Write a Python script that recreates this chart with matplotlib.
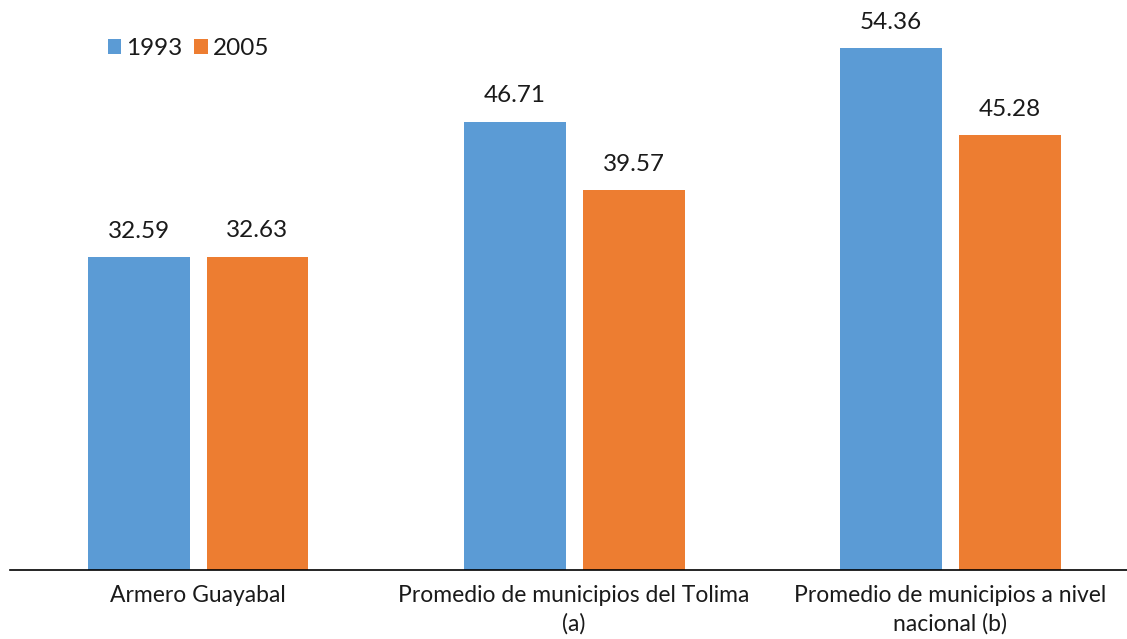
import matplotlib
matplotlib.use("Agg")
import matplotlib.pyplot as plt
import numpy as np

categories = ["Armero Guayabal",
              "Promedio de municipios del Tolima\n(a)",
              "Promedio de municipios a nivel\nnacional (b)"]
series_names = ["1993", "2005"]
values_1993 = [32.59, 46.71, 54.36]
values_2005 = [32.63, 39.57, 45.28]

colors = ["#5B9BD5", "#ED7D31"]

plt.rcParams['font.family'] = ['Lato', 'DejaVu Sans']

fig = plt.figure(figsize=(11.27, 6.39), dpi=100)
ax = fig.add_axes([10 / 1127, 69 / 639, 1 - 10 / 1127, 570 / 639])

x = np.arange(len(categories))
width = 0.271
offset = 0.158

bars1 = ax.bar(x - offset, values_1993, width, color=colors[0], label=series_names[0])
bars2 = ax.bar(x + offset, values_2005, width, color=colors[1], label=series_names[1])

# value labels above each bar
for bars in (bars1, bars2):
    for b in bars:
        ax.annotate(f"{b.get_height():.2f}",
                    (b.get_x() + b.get_width() / 2, b.get_height()),
                    xytext=(0, 11), textcoords="offset points",
                    ha="center", va="bottom", fontsize=17.5, color="#1a1a1a")

ax.set_xlim(-0.5, 2.47)
ax.set_ylim(0, 59.375)
ax.set_xticks(x)
ax.set_xticklabels(categories, fontsize=16.5, color="#1a1a1a", linespacing=1.4)
ax.tick_params(axis='x', length=0, pad=11)
ax.set_yticks([])
for s in ["top", "right", "left"]:
    ax.spines[s].set_visible(False)
ax.spines["bottom"].set_color("#000000")
ax.spines["bottom"].set_linewidth(1.2)

leg = ax.legend(loc="upper left", bbox_to_anchor=(0.068, 0.972), ncol=2, frameon=False,
                fontsize=17.5, handlelength=0.55, handleheight=0.55, handletextpad=0.2,
                columnspacing=0.5)
for t in leg.get_texts():
    t.set_color("#1a1a1a")

fig.savefig("out.png", dpi=100)
